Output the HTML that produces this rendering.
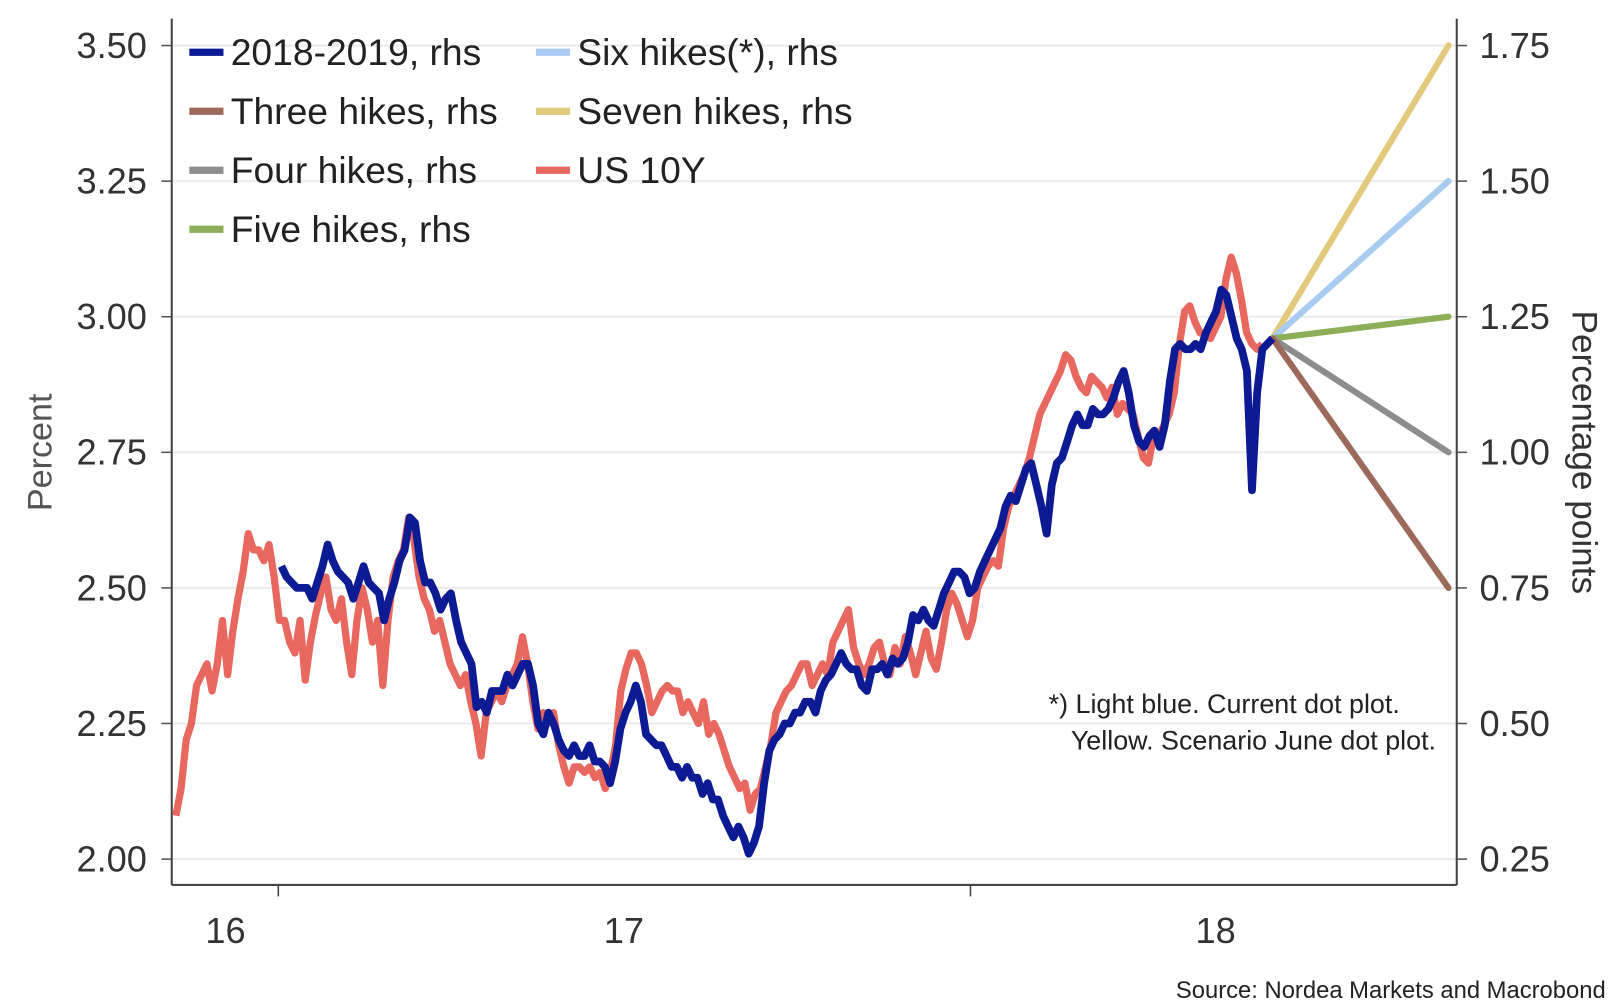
<!DOCTYPE html>
<html><head><meta charset="utf-8"><style>
html,body{margin:0;padding:0;background:#fff;}
svg{display:block;font-family:"Liberation Sans",sans-serif;}
</style></head><body>
<svg id="chart" width="1614" height="1004" viewBox="0 0 1560 970" preserveAspectRatio="none" xmlns="http://www.w3.org/2000/svg">
<g id="grid"></g>
<g id="axes"></g>
<g id="series"></g>
<g id="legend"></g>
<text x="0" y="0" transform="translate(50,437) rotate(-90)" text-anchor="middle" font-size="33" fill="#555">Percent</text>
<text x="0" y="0" transform="translate(1520,437) rotate(90)" text-anchor="middle" font-size="34" fill="#333">Percentage points</text>
<text x="1353" y="689" text-anchor="end" font-size="26" fill="#222">*) Light blue. Current dot plot.</text>
<text x="1388" y="724" text-anchor="end" font-size="26" fill="#222">Yellow. Scenario June dot plot.</text>
<text x="1552" y="964" text-anchor="end" font-size="23" fill="#222">Source: Nordea Markets and Macrobond</text>
</svg>
<script>
const leftTicks=[2.00,2.25,2.50,2.75,3.00,3.25,3.50];
const leftTickLabels=["2.00","2.25","2.50","2.75","3.00","3.25","3.50"];
const rightTickLabels=["0.25","0.50","0.75","1.00","1.25","1.50","1.75"];
const xTickWeeks=[20.6,154.4];
const xLabelWeeks=[10.4,87.4,201.8];
const xLabels=["16","17","18"];
const redStart=0.8, redEnd=210.8;
const us10y=[2.08,2.13,2.22,2.25,2.32,2.34,2.36,2.31,2.36,2.44,2.34,2.42,2.48,2.53,2.60,2.57,2.57,2.55,2.58,2.52,2.44,2.44,2.40,2.38,2.44,2.33,2.40,2.45,2.49,2.52,2.46,2.44,2.48,2.40,2.34,2.44,2.50,2.46,2.40,2.44,2.32,2.44,2.52,2.55,2.57,2.63,2.59,2.52,2.48,2.46,2.42,2.44,2.40,2.36,2.34,2.32,2.34,2.29,2.25,2.19,2.27,2.29,2.31,2.29,2.32,2.34,2.36,2.41,2.36,2.29,2.24,2.27,2.25,2.27,2.21,2.17,2.14,2.17,2.17,2.16,2.17,2.15,2.16,2.13,2.16,2.21,2.31,2.35,2.38,2.38,2.36,2.32,2.27,2.29,2.31,2.32,2.31,2.31,2.27,2.29,2.27,2.25,2.29,2.23,2.25,2.23,2.20,2.17,2.15,2.13,2.14,2.09,2.12,2.13,2.17,2.21,2.27,2.29,2.31,2.32,2.34,2.36,2.36,2.32,2.34,2.36,2.34,2.40,2.42,2.44,2.46,2.39,2.36,2.34,2.36,2.39,2.40,2.36,2.34,2.39,2.36,2.41,2.38,2.34,2.38,2.42,2.37,2.35,2.40,2.46,2.49,2.47,2.44,2.41,2.44,2.50,2.52,2.54,2.55,2.54,2.61,2.65,2.67,2.69,2.71,2.74,2.78,2.82,2.84,2.86,2.88,2.90,2.93,2.92,2.89,2.87,2.86,2.89,2.88,2.87,2.85,2.87,2.82,2.84,2.83,2.82,2.78,2.74,2.73,2.78,2.78,2.80,2.82,2.86,2.95,3.01,3.02,2.99,2.97,2.97,2.96,2.98,3.00,3.07,3.11,3.08,3.03,2.97,2.95,2.94,2.95];
const blueStart=21.2, blueEnd=212.8;
const hikes1819=[0.79,0.77,0.76,0.75,0.75,0.75,0.73,0.76,0.79,0.83,0.80,0.78,0.77,0.76,0.73,0.76,0.79,0.76,0.75,0.74,0.69,0.73,0.76,0.80,0.82,0.88,0.87,0.80,0.76,0.76,0.74,0.71,0.73,0.74,0.69,0.65,0.63,0.61,0.53,0.54,0.52,0.56,0.56,0.56,0.59,0.57,0.59,0.61,0.61,0.57,0.50,0.48,0.52,0.50,0.47,0.45,0.44,0.46,0.44,0.44,0.46,0.43,0.43,0.42,0.39,0.43,0.49,0.52,0.54,0.57,0.54,0.48,0.47,0.46,0.46,0.44,0.42,0.42,0.40,0.42,0.40,0.40,0.37,0.39,0.36,0.36,0.33,0.31,0.29,0.31,0.29,0.26,0.28,0.31,0.39,0.45,0.47,0.48,0.50,0.50,0.52,0.52,0.54,0.54,0.52,0.56,0.58,0.59,0.61,0.63,0.61,0.60,0.60,0.57,0.56,0.60,0.60,0.61,0.59,0.62,0.61,0.62,0.65,0.70,0.69,0.71,0.69,0.68,0.71,0.74,0.76,0.78,0.78,0.77,0.74,0.75,0.78,0.80,0.82,0.84,0.86,0.90,0.92,0.91,0.94,0.97,0.98,0.94,0.90,0.85,0.94,0.98,0.99,1.02,1.05,1.07,1.05,1.05,1.08,1.07,1.07,1.08,1.10,1.13,1.15,1.11,1.05,1.02,1.01,1.03,1.04,1.01,1.05,1.13,1.19,1.20,1.19,1.19,1.20,1.19,1.22,1.24,1.26,1.30,1.29,1.25,1.21,1.19,1.15,0.93,1.11,1.19,1.20,1.21];
const fanStartWeek=212.8, fanEndWeek=246.8, fanStartValue=1.21;
const fanNames=["seven-hikes","six-hikes","five-hikes","four-hikes","three-hikes"];
const fanEndValues=[1.75,1.50,1.25,1.00,0.75];
const fanColors=["#e3c97c","#a9cbf0","#8daf58","#8d8d8d","#9b6a5a"];

const NS="http://www.w3.org/2000/svg";
const X0=166,X1=1408,W0=0,W1=248.4, YT=44, YB=830;
function xs(w){return X0+(w-W0)/(W1-W0)*(X1-X0);}
function yl(v){return YB-(v-2.0)/1.5*(YB-YT);}
function yr(v){return yl(v+1.75);}
function mk(tag,attrs,parent){const e=document.createElementNS(NS,tag);for(const k in attrs)e.setAttribute(k,attrs[k]);parent.appendChild(e);return e;}
const grid=document.getElementById('grid'),axes=document.getElementById('axes'),ser=document.getElementById('series'),leg=document.getElementById('legend');
leftTicks.forEach((v,i)=>{
  const y=yl(v);
  const g=mk('line',{x1:X0,x2:X1,y1:y,y2:y,stroke:'#ebebeb','stroke-width':2},grid);
  
  
  mk('line',{x1:X0-10,x2:X0,y1:y,y2:y,stroke:'#555','stroke-width':1.5},axes);
  mk('line',{x1:X1,x2:X1+10,y1:y,y2:y,stroke:'#555','stroke-width':1.5},axes);
  const t=mk('text',{x:142,y:y+12,'text-anchor':'end','font-size':35,fill:'#333'},axes);
  t.textContent=leftTickLabels[i];
  
  
  const t2=mk('text',{x:1430,y:y+12,'font-size':35,fill:'#333'},axes);
  t2.textContent=rightTickLabels[i];
  
  
});
mk('line',{x1:X0,x2:X0,y1:18,y2:855,stroke:'#444','stroke-width':2},axes);
mk('line',{x1:X1,x2:X1,y1:18,y2:855,stroke:'#444','stroke-width':2},axes);
mk('line',{x1:X0,x2:X1,y1:855,y2:855,stroke:'#444','stroke-width':2},axes);
xTickWeeks.forEach(w=>{mk('line',{x1:xs(w),x2:xs(w),y1:855,y2:866,stroke:'#444','stroke-width':1.5},axes);});
xLabelWeeks.forEach((w,i)=>{
  const t=mk('text',{x:xs(w),y:911,'text-anchor':'middle','font-size':35,fill:'#333'},axes);
  t.textContent=xLabels[i];
  
  
});
function linePts(vals,s,e,yf){const n=vals.length;return vals.map((v,i)=>xs(s+(e-s)*i/(n-1)).toFixed(1)+','+yf(v).toFixed(1)).join(' ');}
fanNames.forEach((n,i)=>{
  const l=mk('line',{x1:xs(fanStartWeek),y1:yr(fanStartValue),x2:xs(fanEndWeek),y2:yr(fanEndValues[i]),stroke:fanColors[i],'stroke-width':6,'stroke-linecap':'round'},ser);
  
  
});
const red=mk('polyline',{points:linePts(us10y,redStart,redEnd,yl),fill:'none',stroke:'#e8675e','stroke-width':7,'stroke-linejoin':'round'},ser);


const blue=mk('polyline',{points:linePts(hikes1819,blueStart,blueEnd,yr),fill:'none',stroke:'#0c1a94','stroke-width':7.5,'stroke-linejoin':'round'},ser);


const legItems=[["2018-2019, rhs","#0c1a94",183,50],["Three hikes, rhs","#9b6a5a",183,107],["Four hikes, rhs","#8d8d8d",183,164],["Five hikes, rhs","#8daf58",183,221],["Six hikes(*), rhs","#a9cbf0",518,50],["Seven hikes, rhs","#e3c97c",518,107],["US 10Y","#e8675e",518,164]];
legItems.forEach(it=>{
  const g=mk('g',{},leg);
  
  
  mk('rect',{x:it[2],y:it[3]-3,width:33,height:7,fill:it[1]},g);
  const t=mk('text',{x:it[2]+40,y:it[3]+13,'font-size':36,fill:'#222'},g);
  t.textContent=it[0];
});
</script>
</body></html>
